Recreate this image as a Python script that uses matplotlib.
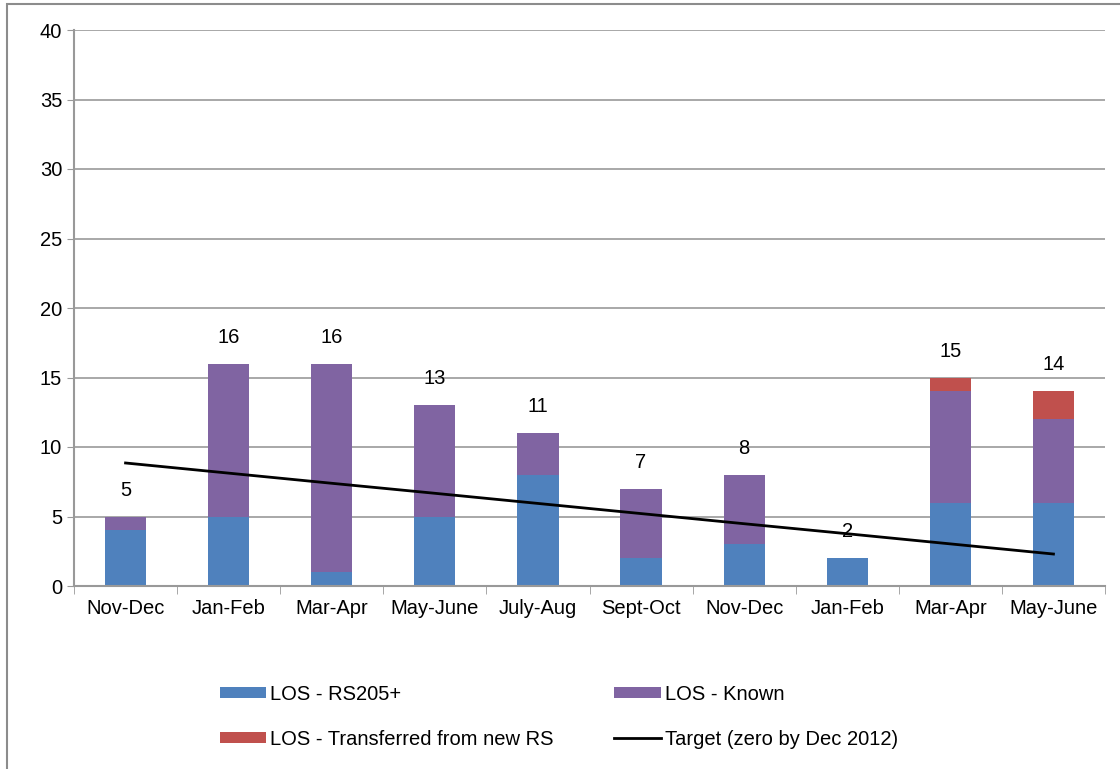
import matplotlib.pyplot as plt
from matplotlib.patches import Rectangle
import numpy as np

plt.rcParams['font.family'] = ['Liberation Sans', 'DejaVu Sans']

categories = ["Nov-Dec", "Jan-Feb", "Mar-Apr", "May-June", "July-Aug",
              "Sept-Oct", "Nov-Dec", "Jan-Feb", "Mar-Apr", "May-June"]
rs205 = [4, 5, 1, 5, 8, 2, 3, 2, 6, 6]
known = [1, 11, 15, 8, 3, 5, 5, 0, 8, 6]
transferred = [0, 0, 0, 0, 0, 0, 0, 0, 1, 2]
target = [8.85, 8.12, 7.39, 6.67, 5.94, 5.21, 4.48, 3.76, 3.03, 2.3]

c_blue = '#4f81bd'
c_purple = '#8064a2'
c_red = '#c0504d'
grid_c = '#999999'
fs = 14.5

fig = plt.figure(figsize=(11.2, 7.69), dpi=100)
# outer chart frame (runs off the right and bottom edges)
fig.patches.append(Rectangle((7 / 1120, -0.05), 1.1, 1 - 4 / 769 + 0.05,
                             transform=fig.transFigure, fill=False,
                             edgecolor='#8c8c8c', linewidth=1.5))

ax = fig.add_axes([74 / 1120, 1 - 586 / 769, (1105 - 74) / 1120, (586 - 30) / 769])

x = np.arange(len(categories))
w = 0.4
rs205 = np.array(rs205)
known = np.array(known)
transferred = np.array(transferred)

ax.bar(x, rs205, w, color=c_blue, label='LOS - RS205+', zorder=2)
ax.bar(x, known, w, bottom=rs205, color=c_purple, label='LOS - Known', zorder=2)
ax.bar(x, transferred, w, bottom=rs205 + known, color=c_red,
       label='LOS - Transferred from new RS', zorder=2)
ax.plot(x, target, color='black', linewidth=2,
        label='Target (zero by Dec 2012)', zorder=3)

totals = rs205 + known + transferred
for xi, t in zip(x, totals):
    ax.text(xi, t + 1.9, str(t), ha='center', va='center', fontsize=fs, zorder=4)

ax.set_xlim(-0.5, len(categories) - 0.5)
ax.set_ylim(0, 40)
ax.set_yticks(range(0, 41, 5))
ax.set_xticks(x)
ax.set_xticklabels(categories, fontsize=fs)
ax.tick_params(axis='y', labelsize=fs, length=5, color=grid_c)
ax.tick_params(axis='x', length=0, pad=9)
ax.set_xticks(np.arange(-0.5, len(categories), 1), minor=True)
ax.tick_params(axis='x', which='minor', length=6, color=grid_c)

ax.yaxis.grid(True, color=grid_c, linewidth=1.2, zorder=0)
ax.set_axisbelow(True)
for s in ['top', 'right']:
    ax.spines[s].set_visible(False)
ax.spines['left'].set_color(grid_c)
ax.spines['bottom'].set_color(grid_c)
ax.spines['left'].set_linewidth(1.5)
ax.spines['bottom'].set_linewidth(1.5)

handles, labels = ax.get_legend_handles_labels()
# handles come as [Target, RS205+, Known, Transferred]; column-major for 2 cols
h2 = [handles[1], handles[3], handles[2], handles[0]]
l2 = [labels[1], labels[3], labels[2], labels[0]]
fig.legend(h2, l2, ncol=2, loc='center', bbox_to_anchor=(0.499, 0.068),
           frameon=False, fontsize=fs, handlelength=2.3, handleheight=0.5,
           columnspacing=3.0, labelspacing=1.3, handletextpad=0.2)

fig.savefig('out.png', dpi=100)
